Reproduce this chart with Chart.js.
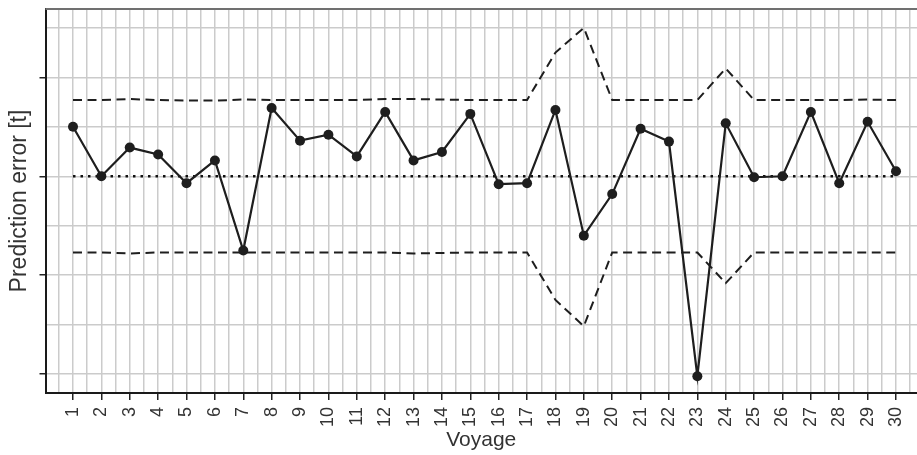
<!DOCTYPE html>
<html>
<head>
<meta charset="utf-8">
<title>Prediction error per voyage</title>
<script src="https://cdn.jsdelivr.net/npm/chart.js@4.4.1/dist/chart.umd.min.js"></script>
<style>
  html, body { margin: 0; padding: 0; background: #fff; }
  #wrap { width: 917px; height: 455px; position: relative; }
</style>
</head>
<body>
<div id="wrap"><canvas id="errorChart"></canvas></div>
<script>
// Voyages on the x axis
const voyages = [1, 2, 3, 4, 5, 6, 7, 8, 9, 10, 11, 12, 13, 14, 15,
  16, 17, 18, 19, 20, 21, 22, 23, 24, 25, 26, 27, 28, 29, 30];

// Prediction error per voyage [t]
const predictionError = [0.50, 0.00, 0.29, 0.22, -0.07, 0.16, -0.75, 0.69, 0.36, 0.42,
  0.20, 0.65, 0.16, 0.245, 0.63, -0.08, -0.07, 0.67, -0.60, -0.18,
  0.48, 0.35, -2.02, 0.535, -0.01, 0.00, 0.65, -0.07, 0.55, 0.05];

// Upper and lower bounds (dashed)
const upperBound = [0.77, 0.77, 0.78, 0.77, 0.765, 0.765, 0.775, 0.77, 0.77, 0.77,
  0.77, 0.78, 0.78, 0.775, 0.77, 0.77, 0.77, 1.25, 1.50, 0.77,
  0.77, 0.77, 0.77, 1.09, 0.77, 0.77, 0.77, 0.77, 0.775, 0.77];
const lowerBound = [-0.77, -0.77, -0.78, -0.77, -0.77, -0.77, -0.77, -0.77, -0.77, -0.77,
  -0.77, -0.77, -0.78, -0.775, -0.77, -0.77, -0.77, -1.25, -1.515, -0.77,
  -0.77, -0.77, -0.77, -1.08, -0.77, -0.77, -0.77, -0.77, -0.77, -0.77];

// Zero reference (dotted)
const zeroLine = voyages.map(() => 0);

// Labelled y ticks (marks only, no numbers) and grid steps
const yTickValues = [-2, -1, 0, 1];
const yGridValues = [-2, -1.5, -1, -0.5, 0, 0.5, 1, 1.5];
const xGridValues = [0.5].concat(voyages.flatMap(v => [v, v + 0.5]));

const TEXT_COLOR = "#333333";
const LINE_COLOR = "#1e1e1e";
const GRID_COLOR = "#cbcbcb";
const FONT = "'Liberation Sans', Arial, Helvetica, sans-serif";

function serie(valores) {
  return voyages.map((v, i) => ({ x: v, y: valores[i] }));
}

// Top edge of the plot box
const bordaSuperior = {
  id: "bordaSuperior",
  afterDraw(chart) {
    const { ctx, chartArea } = chart;
    ctx.save();
    ctx.strokeStyle = "#707070";
    ctx.lineWidth = 2;
    ctx.beginPath();
    ctx.moveTo(chartArea.left, chartArea.top);
    ctx.lineTo(chartArea.right, chartArea.top);
    ctx.stroke();
    ctx.restore();
  },
};

const ctx = document.getElementById("errorChart").getContext("2d");

new Chart(ctx, {
  type: "line",
  data: {
    datasets: [
      {
        label: "Prediction error",
        data: serie(predictionError),
        borderColor: LINE_COLOR,
        backgroundColor: LINE_COLOR,
        borderWidth: 2.2,
        pointRadius: 5,
        pointBorderWidth: 0,
        pointBackgroundColor: LINE_COLOR,
        tension: 0,
        order: 0,
      },
      {
        label: "Upper bound",
        data: serie(upperBound),
        borderColor: LINE_COLOR,
        borderWidth: 2,
        borderDash: [9, 5.5],
        pointRadius: 0,
        tension: 0,
        order: 2,
      },
      {
        label: "Lower bound",
        data: serie(lowerBound),
        borderColor: LINE_COLOR,
        borderWidth: 2,
        borderDash: [9, 5.5],
        pointRadius: 0,
        tension: 0,
        order: 2,
      },
      {
        label: "Zero",
        data: serie(zeroLine),
        borderColor: "#111",
        borderWidth: 2.5,
        borderDash: [2.5, 5],
        pointRadius: 0,
        tension: 0,
        order: 1,
      },
    ],
  },
  options: {
    responsive: true,
    maintainAspectRatio: false,
    animation: false,
    events: [],
    layout: {
      autoPadding: false,
      padding: { top: 9, right: 0, left: 0, bottom: 0 },
    },
    plugins: {
      legend: { display: false },
      tooltip: { enabled: false },
    },
    scales: {
      x: {
        type: "linear",
        min: 0.031,
        max: 30.74,
        afterBuildTicks: (scale) => {
          scale.ticks = xGridValues.map((v) => ({ value: v }));
        },
        afterFit: (scale) => {
          scale.height = 62;
          scale.paddingLeft = 0;
          scale.paddingRight = 0;
        },
        grid: {
          color: GRID_COLOR,
          lineWidth: 1.5,
          tickLength: 7,
          tickWidth: 1.5,
          tickColor: (c) =>
            Number.isInteger(c.tick.value) ? "#222" : "rgba(0,0,0,0)",
        },
        border: { color: "#1a1a1a", width: 2 },
        ticks: {
          autoSkip: false,
          minRotation: 90,
          maxRotation: 90,
          padding: 7,
          color: TEXT_COLOR,
          font: { family: FONT, size: 18 },
          callback: (value) => (Number.isInteger(value) ? String(value) : ""),
        },
        title: {
          display: true,
          text: "Voyage",
          color: TEXT_COLOR,
          font: { family: FONT, size: 21 },
          padding: { top: 0, bottom: 2 },
        },
      },
      y: {
        type: "linear",
        min: -2.19,
        max: 1.69,
        afterBuildTicks: (scale) => {
          scale.ticks = yGridValues.map((v) => ({ value: v }));
        },
        afterFit: (scale) => {
          scale.width = 45.5;
          scale.paddingTop = 0;
          scale.paddingBottom = 0;
        },
        grid: {
          color: GRID_COLOR,
          lineWidth: 1.5,
          tickLength: 6,
          tickWidth: 1.5,
          tickColor: (c) =>
            yTickValues.includes(c.tick.value) ? "#222" : "rgba(0,0,0,0)",
        },
        border: { color: "#1a1a1a", width: 2 },
        ticks: { display: false },
        title: {
          display: true,
          text: "Prediction error [t]",
          color: TEXT_COLOR,
          font: { family: FONT, size: 23 },
          padding: { top: 6, bottom: 0 },
        },
      },
    },
  },
  plugins: [bordaSuperior],
});
</script>
</body>
</html>
